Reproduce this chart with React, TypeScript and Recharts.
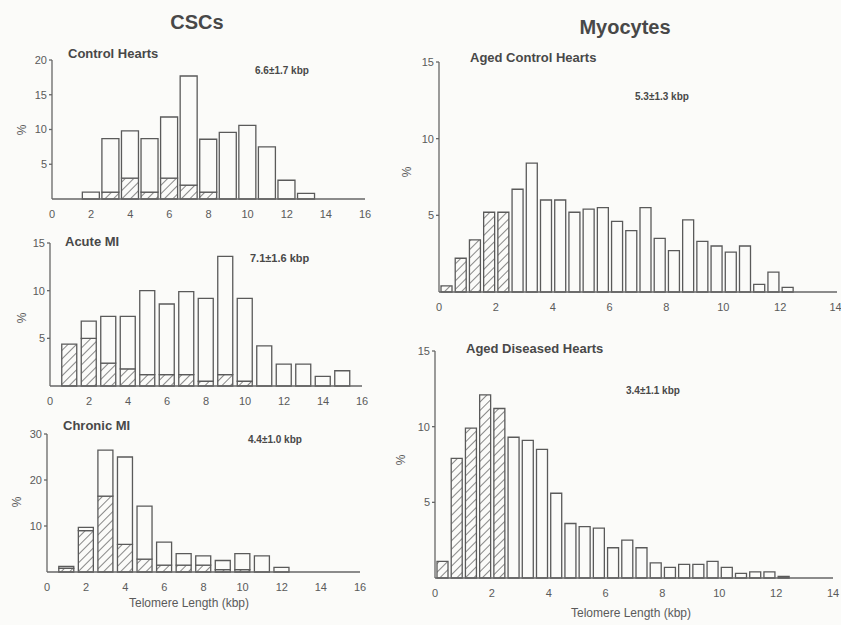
import React from 'react';
import { BarChart, Bar, XAxis, YAxis } from 'recharts';

// CSCs – Control Hearts
const cscControlBins = [2, 3, 4, 5, 6, 7, 8, 9, 10, 11, 12, 13];
const cscControlTotal = [1, 8.7, 9.8, 8.7, 11.8, 17.7, 8.6, 9.6, 10.6, 7.5, 2.7, 0.8];
const cscControlShort = [0, 1, 3, 1, 3, 2, 1, 0, 0, 0, 0, 0];

// CSCs – Acute MI
const cscAcuteBins = [1, 2, 3, 4, 5, 6, 7, 8, 9, 10, 11, 12, 13, 14, 15];
const cscAcuteTotal = [4.4, 6.8, 7.3, 7.3, 10, 8.6, 9.9, 9.2, 13.6, 9.2, 4.2, 2.3, 2.3, 1, 1.6];
const cscAcuteShort = [4.4, 5, 2.4, 1.8, 1.2, 1.2, 1.2, 0.5, 1.2, 0.5, 0, 0, 0, 0, 0];

// CSCs – Chronic MI
const cscChronicBins = [1, 2, 3, 4, 5, 6, 7, 8, 9, 10, 11, 12];
const cscChronicTotal = [1.2, 9.7, 26.5, 25, 14.3, 6.5, 4, 3.5, 2.5, 4, 3.5, 1];
const cscChronicShort = [0.8, 9, 16.5, 6, 2.8, 1.5, 1.5, 1.5, 0.5, 0.5, 0, 0];

// Myocytes – Aged Control Hearts
const myoControlBins = [0.25, 0.75, 1.25, 1.75, 2.25, 2.75, 3.25, 3.75, 4.25, 4.75, 5.25, 5.75, 6.25, 6.75, 7.25, 7.75, 8.25, 8.75, 9.25, 9.75, 10.25, 10.75, 11.25, 11.75, 12.25];
const myoControlTotal = [0.4, 2.2, 3.4, 5.2, 5.2, 6.7, 8.4, 6.0, 6.0, 5.2, 5.4, 5.5, 4.6, 4.0, 5.5, 3.5, 2.7, 4.7, 3.3, 3.0, 2.6, 3.0, 0.5, 1.3, 0.3];
const myoControlShort = [0.4, 2.2, 3.4, 5.2, 5.2, 0, 0, 0, 0, 0, 0, 0, 0, 0, 0, 0, 0, 0, 0, 0, 0, 0, 0, 0, 0];

// Myocytes – Aged Diseased Hearts
const myoDiseasedBins = [0.25, 0.75, 1.25, 1.75, 2.25, 2.75, 3.25, 3.75, 4.25, 4.75, 5.25, 5.75, 6.25, 6.75, 7.25, 7.75, 8.25, 8.75, 9.25, 9.75, 10.25, 10.75, 11.25, 11.75, 12.25];
const myoDiseasedTotal = [1.1, 7.9, 9.9, 12.1, 11.2, 9.3, 9.1, 8.5, 5.6, 3.6, 3.4, 3.3, 2.0, 2.5, 2.0, 1.0, 0.7, 0.9, 0.9, 1.1, 0.7, 0.3, 0.4, 0.4, 0.1];
const myoDiseasedShort = [1.1, 7.9, 9.9, 12.1, 11.2, 0, 0, 0, 0, 0, 0, 0, 0, 0, 0, 0, 0, 0, 0, 0, 0, 0, 0, 0, 0];

const xTicks16 = [0, 2, 4, 6, 8, 10, 12, 14, 16];
const xTicks14 = [0, 2, 4, 6, 8, 10, 12, 14];

const font = '"Liberation Sans", Arial, sans-serif';
const ink = '#5a5a5a';
const line = '#666';

type PanelProps = {
  id: string;
  bins: number[];
  total: number[];
  short: number[];
  xMax: number;
  xTicks: number[];
  yMax: number;
  yTicks: number[];
  barSize: number;
  left: number;
  top: number;
  width: number;
  height: number;
  yAxisWidth: number;
  marginTop: number;
  marginRight: number;
};

function Panel(p: PanelProps) {
  const data = p.bins.map((x, i) => ({ x, short: p.short[i], rest: p.total[i] - p.short[i] }));
  return (
    <div style={{ position: 'absolute', left: p.left, top: p.top }}>
      <BarChart
        width={p.width}
        height={p.height}
        data={data}
        margin={{ top: p.marginTop, right: p.marginRight, bottom: 0, left: 0 }}
      >
        <defs>
          <pattern id={p.id} width="6" height="6" patternUnits="userSpaceOnUse" patternTransform="rotate(45)">
            <line x1="0" y1="0" x2="0" y2="6" stroke="#555" strokeWidth="1.4" />
          </pattern>
        </defs>
        <XAxis
          dataKey="x"
          type="number"
          domain={[0, p.xMax]}
          ticks={p.xTicks}
          allowDataOverflow
          tickLine={false}
          tickMargin={5}
          height={20}
          stroke={line}
          strokeWidth={1.3}
          tick={{ fill: ink, fontSize: 11, fontFamily: font }}
        />
        <YAxis
          type="number"
          domain={[0, p.yMax]}
          ticks={p.yTicks}
          width={p.yAxisWidth}
          tickSize={3}
          stroke={line}
          strokeWidth={1.3}
          tick={{ fill: ink, fontSize: 11, fontFamily: font }}
        />
        <Bar dataKey="short" stackId="a" barSize={p.barSize} fill={`url(#${p.id})`} stroke="#5a5a5a" strokeWidth={1.3} isAnimationActive={false} />
        <Bar dataKey="rest" stackId="a" barSize={p.barSize} fill="#fbfbf9" stroke="#5a5a5a" strokeWidth={1.3} isAnimationActive={false} />
      </BarChart>
    </div>
  );
}

function Text({ x, y, size, bold, children, rotate, center }: any) {
  return (
    <div
      style={{
        position: 'absolute',
        left: x,
        top: y,
        fontFamily: font,
        fontSize: size,
        fontWeight: bold ? 'bold' : 'normal',
        color: bold ? '#484848' : ink,
        whiteSpace: 'nowrap',
        lineHeight: 1,
        transform: `${center ? 'translate(-50%, -50%)' : 'translateY(-50%)'}${rotate ? ' rotate(-90deg)' : ''}`,
      }}
    >
      {children}
    </div>
  );
}

export default function App() {
  return (
    <div style={{ position: 'absolute', left: 0, top: 0, width: 841, height: 625, background: '#fbfbf9', overflow: 'hidden' }}>
      <Panel id="h1" bins={cscControlBins} total={cscControlTotal} short={cscControlShort}
        xMax={16} xTicks={xTicks16} yMax={20} yTicks={[5, 10, 15, 20]} barSize={17}
        left={0} top={40} width={380} height={179} yAxisWidth={52} marginTop={20} marginRight={15} />
      <Panel id="h2" bins={cscAcuteBins} total={cscAcuteTotal} short={cscAcuteShort}
        xMax={16} xTicks={xTicks16} yMax={15} yTicks={[5, 10, 15]} barSize={15}
        left={0} top={225} width={380} height={181} yAxisWidth={50} marginTop={18} marginRight={18} />
      <Panel id="h3" bins={cscChronicBins} total={cscChronicTotal} short={cscChronicShort}
        xMax={16} xTicks={xTicks16} yMax={30} yTicks={[10, 20, 30]} barSize={15}
        left={0} top={420} width={380} height={172} yAxisWidth={47} marginTop={14} marginRight={20} />
      <Panel id="h4" bins={myoControlBins} total={myoControlTotal} short={myoControlShort}
        xMax={14} xTicks={xTicks14} yMax={15} yTicks={[5, 10, 15]} barSize={11}
        left={390} top={40} width={451} height={272} yAxisWidth={49} marginTop={22} marginRight={4} />
      <Panel id="h5" bins={myoDiseasedBins} total={myoDiseasedTotal} short={myoDiseasedShort}
        xMax={14} xTicks={xTicks14} yMax={15} yTicks={[5, 10, 15]} barSize={11}
        left={390} top={330} width={451} height={268} yAxisWidth={45} marginTop={21} marginRight={8} />

      <Text x={197} y={22} size={20} bold center>CSCs</Text>
      <Text x={625} y={27} size={20} bold center>Myocytes</Text>

      <Text x={68} y={53} size={13} bold>Control Hearts</Text>
      <Text x={65} y={241} size={13} bold>Acute MI</Text>
      <Text x={63} y={425} size={13} bold>Chronic MI</Text>
      <Text x={470} y={57} size={13} bold>Aged Control Hearts</Text>
      <Text x={466} y={348} size={13} bold>Aged Diseased Hearts</Text>

      <Text x={255} y={71} size={10} bold>6.6±1.7 kbp</Text>
      <Text x={250} y={258} size={11} bold>7.1±1.6 kbp</Text>
      <Text x={248} y={440} size={10} bold>4.4±1.0 kbp</Text>
      <Text x={635} y={97} size={10} bold>5.3±1.3 kbp</Text>
      <Text x={626} y={391} size={10} bold>3.4±1.1 kbp</Text>

      <Text x={22} y={130} size={12} rotate center>%</Text>
      <Text x={22} y={318} size={12} rotate center>%</Text>
      <Text x={17} y={502} size={12} rotate center>%</Text>
      <Text x={407} y={172} size={12} rotate center>%</Text>
      <Text x={401} y={460} size={12} rotate center>%</Text>

      <Text x={189} y={603} size={12} center>Telomere Length (kbp)</Text>
      <Text x={631} y={613} size={12} center>Telomere Length (kbp)</Text>
    </div>
  );
}
